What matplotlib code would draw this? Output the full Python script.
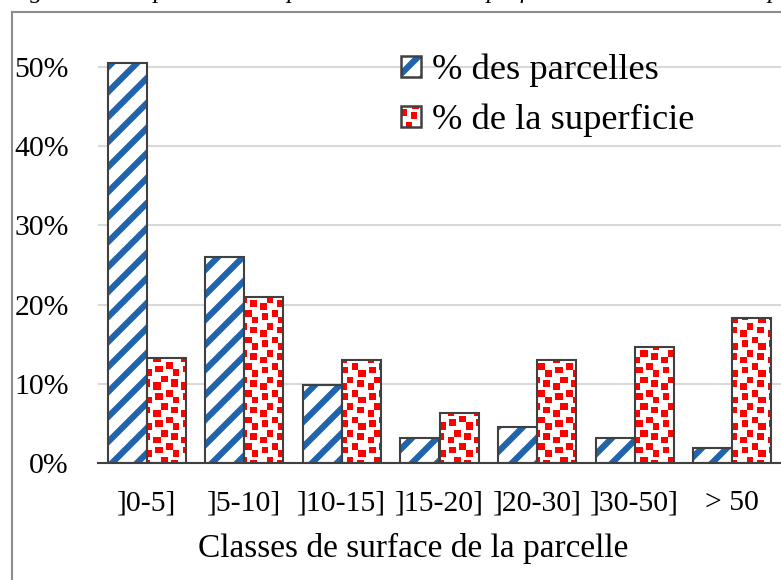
import matplotlib
matplotlib.use("Agg")
import matplotlib.pyplot as plt
import numpy as np
from matplotlib.lines import Line2D
from matplotlib.patches import Rectangle
from matplotlib.legend_handler import HandlerTuple, HandlerBase
from matplotlib.ticker import PercentFormatter

plt.rcParams['font.family'] = ['Liberation Serif', 'DejaVu Serif']
plt.rcParams['hatch.linewidth'] = 3.0

# data
classes = [']0-5]', ']5-10]', ']10-15]', ']15-20]', ']20-30]', ']30-50]', '> 50']
pct_parcelles = [50.5, 26.0, 9.8, 3.2, 4.5, 3.2, 1.9]
pct_superficie = [13.3, 20.9, 13.0, 6.35, 13.0, 14.6, 18.3]
labels = ['% des parcelles', '% de la superficie']
title = "Figure 12 : Répartition des parcelles et de la superficie selon la taille de la parcelle"

DPI = 150
W, H = 781, 580
fig = plt.figure(figsize=(W / DPI, H / DPI), dpi=DPI)
ax = fig.add_axes([98 / W, 117 / H, 683 / W, 435.6 / H])
ax.set_xlim(-0.5, 6.5)
ax.set_ylim(0, 0.55)

x = list(range(len(classes)))
w = 0.4
xb = [i - w / 2 for i in x]
xr = [i + w / 2 for i in x]
blue = '#1f64ad'
red = '#ff0000'
edge = '#404040'

# "large confetti" fill pattern: tile in pixels, squares in 1/8 tile units
TILE = 80 / 3
SQUARES = [(3, 2), (0, 1), (6, 3), (1.5, 5), (3.5, 7), (6.5, 6)]


def confetti_mask(px, py):
    u = (px % TILE) / TILE * 8
    v = (py % TILE) / TILE * 8
    m = np.zeros(np.broadcast(u, v).shape, bool)
    for sx, sy in SQUARES:
        m |= (((u - sx) % 8) < 2) & (((v - sy) % 8) < 2)
    return m


# blue bars: hatched stripes
b1 = ax.bar(xb, [v / 100 for v in pct_parcelles], w, color='white', edgecolor=blue,
            hatch='//', linewidth=0, zorder=2)
for p in b1:
    if hasattr(p, 'set_hatch_linewidth'):
        p.set_hatch_linewidth(3.0)

# red bars: white base, confetti image clipped to each bar
b2 = ax.bar(xr, [v / 100 for v in pct_superficie], w, color='white', linewidth=0, zorder=1.9)
inv = ax.transData.inverted()
for bar in b2:
    bx0, by0 = bar.get_x(), bar.get_y()
    bx1, by1 = bx0 + bar.get_width(), by0 + bar.get_height()
    (p0x, p0y), (p1x, p1y) = ax.transData.transform([(bx0, by0), (bx1, by1)])
    l, r = np.floor(p0x), np.ceil(p1x)
    b, t = np.floor(p0y), np.ceil(p1y)
    cols = np.arange(l, r) + 0.5
    rows = H - (np.arange(t, b, -1) - 0.5)
    m = confetti_mask(cols[None, :], rows[:, None])
    img = np.ones(m.shape + (3,))
    img[m] = (1.0, 0.0, 0.0)
    (dl, db), (dr, dt) = inv.transform([(l, b), (r, t)])
    im = ax.imshow(img, extent=(dl, dr, db, dt), interpolation='nearest', aspect='auto', zorder=2)
    im.set_clip_path(bar)

ax.bar(xb, [v / 100 for v in pct_parcelles], w, fill=False, edgecolor=edge, linewidth=1.0, zorder=3)
ax.bar(xr, [v / 100 for v in pct_superficie], w, fill=False, edgecolor=edge, linewidth=1.0, zorder=3)

ax.set_xlim(-0.5, 6.5)
ax.set_ylim(0, 0.55)
ax.set_yticks([0, 0.1, 0.2, 0.3, 0.4, 0.5])
ax.yaxis.set_major_formatter(PercentFormatter(1.0, decimals=0))
ax.set_xticks(x)
ax.set_xticklabels(classes)
ax.tick_params(axis='both', length=0, labelsize=14.3)
ax.tick_params(axis='y', pad=14)
ax.tick_params(axis='x', pad=13)
ax.grid(axis='y', color='#d9d9d9', linewidth=1.0, zorder=0)
ax.set_axisbelow(True)
for s in ['top', 'right', 'left']:
    ax.spines[s].set_visible(False)
ax.spines['bottom'].set_color(edge)
ax.spines['bottom'].set_linewidth(1.0)
ax.spines['bottom'].set_zorder(4)

fig.text(413 / W, 1 - 548 / H, 'Classes de surface de la parcelle', ha='center', va='center',
         fontsize=16)


class ConfettiHandler(HandlerBase):
    def create_artists(self, legend, orig_handle, xdescent, ydescent, width, height,
                       fontsize, trans):
        x0, y0 = -xdescent, -ydescent
        arts = [Rectangle((x0, y0), width, height, facecolor='white', linewidth=0,
                          transform=trans)]
        tile = TILE * 72 / DPI
        unit = tile / 8
        for k in range(-1, int(width / tile) + 2):
            for j in range(-1, int(height / tile) + 2):
                for sx, sy in SQUARES:
                    sx0 = x0 + k * tile + sx * unit
                    sy1 = y0 + height - (j * tile + sy * unit)
                    ax0, ax1 = max(sx0, x0), min(sx0 + 2 * unit, x0 + width)
                    ay0, ay1 = max(sy1 - 2 * unit, y0), min(sy1, y0 + height)
                    if ax1 > ax0 and ay1 > ay0:
                        arts.append(Rectangle((ax0, ay0), ax1 - ax0, ay1 - ay0, facecolor=red,
                                              linewidth=0, transform=trans))
        arts.append(Rectangle((x0, y0), width, height, fill=False, edgecolor=edge,
                              linewidth=1.2, transform=trans))
        return arts


# legend handles
hb = Rectangle((0, 0), 1, 1, facecolor='white', edgecolor=blue, hatch='//', linewidth=0)
ob = Rectangle((0, 0), 1, 1, fill=False, edgecolor=edge, linewidth=1.2)
hr = Rectangle((0, 0), 1, 1, facecolor='white', edgecolor=red)
leg = ax.legend([(hb, ob), hr], labels, loc='upper left', bbox_to_anchor=(0.422, 0.973),
                frameon=False, fontsize=17.5, handlelength=0.55, handleheight=0.5,
                handletextpad=0.3, labelspacing=0.45, borderaxespad=0,
                handler_map={tuple: HandlerTuple(ndivide=1, pad=0), hr: ConfettiHandler()})
for p in leg.get_patches():
    if p.get_hatch() == '//' and hasattr(p, 'set_hatch_linewidth'):
        p.set_hatch_linewidth(3.0)

# chart frame, clipped by the page
frame = '#8c8c8c'
fig.add_artist(Line2D([12 / W, 12 / W], [0, 1 - 12 / H], color=frame, linewidth=1.0))
fig.add_artist(Line2D([12 / W, 1], [1 - 12 / H, 1 - 12 / H], color=frame, linewidth=1.0))

# figure caption, mostly above the page
fig.text(8 / W, 1 + 2 / H, title, ha='left', va='baseline', fontsize=12, style='italic')

fig.savefig('out.png', dpi=DPI)
